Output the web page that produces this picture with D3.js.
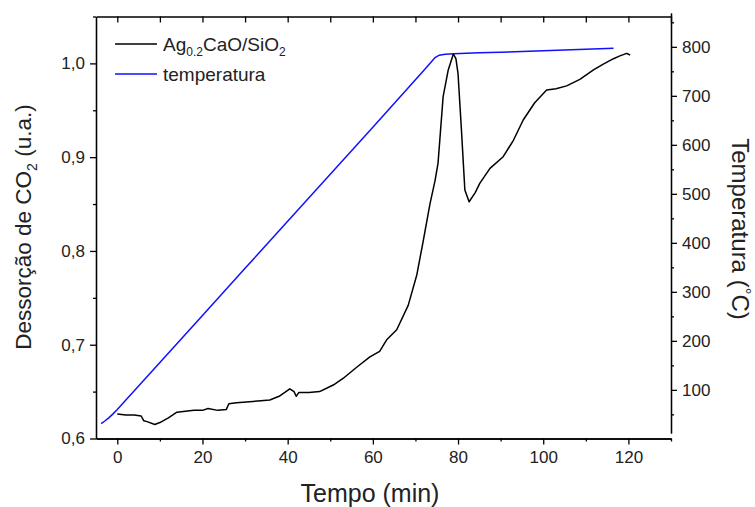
<!DOCTYPE html>
<html>
<head>
<meta charset="utf-8">
<script src="https://cdn.jsdelivr.net/npm/d3@7"></script>
<style>
  body { margin: 0; background: #fff; }
  svg { font-family: "Liberation Sans", Arial, sans-serif; }
</style>
</head>
<body>
<svg id="chart"></svg>
<script>
// data
const tempTime = [-3.8, -3, -2, -1, 0, 10, 20, 30, 40, 50, 60, 70, 72, 73.5, 74.6, 75.6, 77, 79, 85, 90, 100, 110, 116.5];
const tempValues = [31, 36, 43, 51, 60, 156, 252, 348, 444, 540, 636, 733, 752, 767, 778, 783, 785, 786, 788, 789, 792, 795, 797];

const desTime = [0, 2, 4, 5.6, 6.2, 7, 8.8, 10, 12, 14, 16, 18, 20, 21.3, 23.6, 25.6, 26.2, 28, 30.3, 33, 35.8, 38,
  40.5, 41.5, 42.0, 42.6, 45, 47.5, 50.7, 53, 56.2, 59.3, 61.6, 63.2, 65.6, 68.3, 70.3, 71.8, 73.4, 74.6, 75.3, 76.5,
  77.7, 78.9, 79.5, 80.0, 80.8, 81.6, 82.6, 84, 85.1, 87.5, 90.6, 93, 95.3, 98, 100.8, 103, 105.5, 108.6, 111.8, 114,
  116.5, 118, 119.6, 120.4];
const desValues = [0.626, 0.625, 0.625, 0.624, 0.619, 0.618, 0.615, 0.617, 0.622, 0.628, 0.629, 0.630, 0.630, 0.632,
  0.630, 0.631, 0.637, 0.638, 0.639, 0.640, 0.641, 0.645, 0.653, 0.650, 0.645, 0.649, 0.649, 0.650, 0.657, 0.664,
  0.676, 0.687, 0.693, 0.705, 0.716, 0.742, 0.774, 0.81, 0.85, 0.875, 0.8935, 0.9645, 0.993, 1.010, 1.005, 0.989,
  0.929, 0.865, 0.8525, 0.862, 0.872, 0.888, 0.9005, 0.918, 0.9396, 0.958, 0.9716, 0.973, 0.976, 0.983, 0.993, 0.999,
  1.005, 1.008, 1.0107, 1.009];

const xTicks = [0, 20, 40, 60, 80, 100, 120];
const leftTicks = [0.6, 0.7, 0.8, 0.9, 1.0];
const rightTicks = [100, 200, 300, 400, 500, 600, 700, 800];

const width = 755, height = 507;
const svg = d3.select("#chart").attr("width", width).attr("height", height);

// scales
const x = d3.scaleLinear().domain([-5, 130]).range([96, 671]);
const yLeft = d3.scaleLinear().domain([0.6, 1.05]).range([438.5, 16.5]);
const yRight = d3.scaleLinear().domain([12, 869]).range([433, 13]);

const fmtComma = d => d3.format(".1f")(d).replace(".", ",");
const tickFont = 17;
const blue = "#1010ff";

// bottom axis (major + minor)
const bottomAxis = svg.append("g").attr("transform", `translate(0,${yLeft.range()[0]})`);
bottomAxis.call(d3.axisBottom(x).tickValues(d3.range(10, 131, 20)).tickSize(3).tickSizeOuter(0).tickFormat(""));
bottomAxis.append("g").call(d3.axisBottom(x).tickValues(xTicks).tickSize(6).tickSizeOuter(0).tickPadding(6));

// top axis, ticks pointing inward
const topAxis = svg.append("g").attr("transform", `translate(0,${yLeft.range()[1]})`);
topAxis.call(d3.axisBottom(x).tickValues(d3.range(0, 131, 10)).tickSize(6).tickSizeOuter(0).tickFormat(""));

// left axis
const leftAxis = svg.append("g").attr("transform", `translate(${x.range()[0]},0)`);
leftAxis.call(d3.axisLeft(yLeft).tickValues([0.65, 0.75, 0.85, 0.95, 1.05]).tickSize(3).tickSizeOuter(0).tickFormat(""));
leftAxis.append("g").call(d3.axisLeft(yLeft).tickValues(leftTicks).tickSize(6).tickSizeOuter(0).tickPadding(5).tickFormat(fmtComma));

// right axis
const rightAxis = svg.append("g").attr("transform", `translate(${x.range()[1]},0)`);
rightAxis.call(d3.axisRight(yRight).tickValues(d3.range(50, 851, 100)).tickSize(3).tickSizeOuter(0).tickFormat(""));
rightAxis.append("g").call(d3.axisRight(yRight).tickValues(rightTicks).tickSize(6).tickSizeOuter(0).tickPadding(5));

svg.selectAll(".domain").attr("stroke", "#000").attr("stroke-width", 1.3);
svg.selectAll(".tick line").attr("stroke", "#000").attr("stroke-width", 1.3);
svg.selectAll("g[font-size]").attr("font-size", tickFont).attr("font-family", "Liberation Sans, Arial, sans-serif");
svg.selectAll(".tick text").attr("fill", "#222");

// lines
const tempLine = d3.line().x((d, i) => x(tempTime[i])).y(d => yRight(d));
svg.append("path").datum(tempValues)
  .attr("d", tempLine).attr("fill", "none").attr("stroke", blue).attr("stroke-width", 1.5);

const desLine = d3.line().x((d, i) => x(desTime[i])).y(d => yLeft(d));
svg.append("path").datum(desValues)
  .attr("d", desLine).attr("fill", "none").attr("stroke", "#000").attr("stroke-width", 1.5)
  .attr("stroke-linejoin", "round");

// legend
const legend = svg.append("g");
const legendItems = [
  { color: "#000", y: 44, parts: [["Ag", 0], ["0.2", 1], ["CaO/SiO", 0], ["2", 1]] },
  { color: blue, y: 74, parts: [["temperatura", 0]] }
];
legendItems.forEach(item => {
  legend.append("line").attr("x1", 115).attr("x2", 157).attr("y1", item.y).attr("y2", item.y)
    .attr("stroke", item.color).attr("stroke-width", 1.5);
  const t = legend.append("text").attr("x", 163).attr("y", item.y + 7).attr("font-size", 19).attr("fill", "#222");
  item.parts.forEach(([s, sub], i) => {
    const ts = t.append("tspan").text(s);
    if (sub) ts.attr("font-size", 12).attr("dy", 5);
    else if (i > 0) ts.attr("dy", -5);
  });
});

// axis titles
svg.append("text").attr("x", 370).attr("y", 502).attr("text-anchor", "middle")
  .attr("font-size", 25).attr("fill", "#222").text("Tempo (min)");

const lt = svg.append("text").attr("transform", "translate(31,227) rotate(-90)")
  .attr("text-anchor", "middle").attr("font-size", 22.5).attr("fill", "#222");
lt.append("tspan").text("Dessorção de CO");
lt.append("tspan").text("2").attr("font-size", 14).attr("dy", 6);
lt.append("tspan").text(" (u.a.)").attr("dy", -6);

const rt = svg.append("text").attr("transform", "translate(732,229) rotate(90)")
  .attr("text-anchor", "middle").attr("font-size", 24).attr("fill", "#222");
rt.append("tspan").text("Temperatura (");
rt.append("tspan").text("°").attr("font-size", 17).attr("dy", -7);
rt.append("tspan").text("C)").attr("dy", 7);
</script>
</body>
</html>
